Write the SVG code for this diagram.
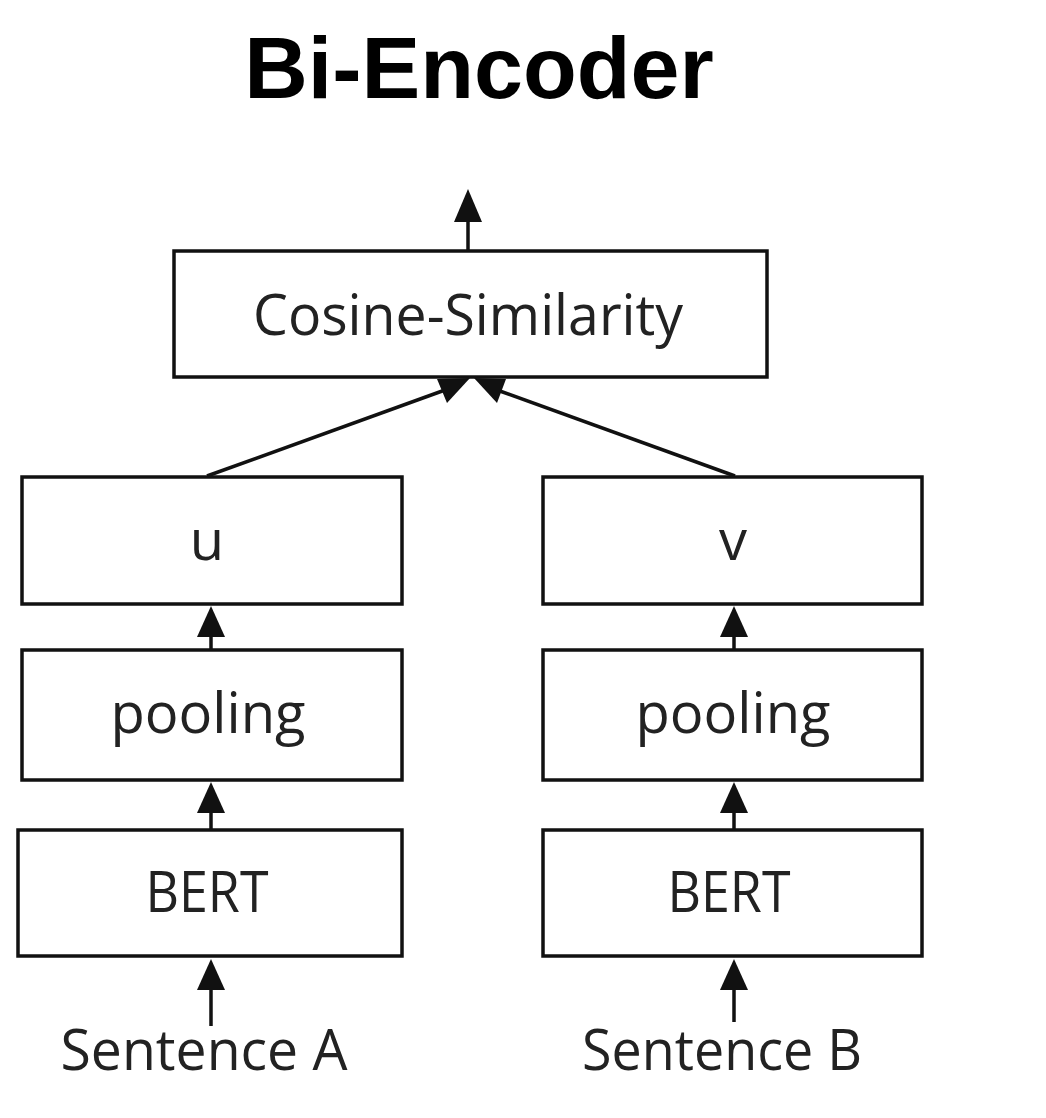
<svg xmlns="http://www.w3.org/2000/svg" width="1046" height="1118" viewBox="0 0 1046 1118">
<style>
.box{fill:#fff;stroke:#111;stroke-width:3.5}
.lbl{font-family:"Open Sans","Noto Sans",sans-serif;font-size:56px;fill:#222;text-anchor:middle}
.title{font-family:"Liberation Sans",Arial,sans-serif;font-weight:bold;font-size:88px;fill:#000;text-anchor:middle}
.edge{stroke:#111;stroke-width:3.5;fill:none}
.head{fill:#111}
</style>
<rect width="1046" height="1118" fill="#fff"/>
<text class="title" x="479" y="98">Bi-Encoder</text>
<g id="connectors">
<line class="edge" x1="468" y1="251" x2="468" y2="220"/>
<path class="head" d="M454,222 L468,189 L482,222 z"/>
<line class="edge" x1="207" y1="476" x2="445" y2="390"/>
<path class="head" d="M437,379 L470,378 L447,403 z"/>
<line class="edge" x1="735" y1="476" x2="497" y2="390"/>
<path class="head" d="M474,378 L506,379 L497,403 z"/>
<line class="edge" x1="211" y1="650" x2="211" y2="632"/>
<path class="head" d="M197,637 L211,606 L225,637 z"/>
<line class="edge" x1="211" y1="830" x2="211" y2="808"/>
<path class="head" d="M197,813 L211,782 L225,813 z"/>
<line class="edge" x1="211" y1="1026" x2="211" y2="985"/>
<path class="head" d="M197,990 L211,959 L225,990 z"/>
<line class="edge" x1="734" y1="650" x2="734" y2="632"/>
<path class="head" d="M720,637 L734,606 L748,637 z"/>
<line class="edge" x1="734" y1="830" x2="734" y2="808"/>
<path class="head" d="M720,813 L734,782 L748,813 z"/>
<line class="edge" x1="734" y1="1022" x2="734" y2="985"/>
<path class="head" d="M720,990 L734,959 L748,990 z"/>
</g>
<g id="cosine"><rect class="box" x="174" y="251" width="593" height="126"/><text class="lbl" x="468" y="335" textLength="430" lengthAdjust="spacingAndGlyphs">Cosine-Similarity</text></g>
<g id="u"><rect class="box" x="22" y="477" width="380" height="127"/><text class="lbl" x="207" y="560">u</text></g>
<g id="v"><rect class="box" x="543" y="477" width="379" height="127"/><text class="lbl" x="733" y="560">v</text></g>
<g id="poolingA"><rect class="box" x="22" y="650" width="380" height="130"/><text class="lbl" x="208" y="733" textLength="195" lengthAdjust="spacingAndGlyphs">pooling</text></g>
<g id="poolingB"><rect class="box" x="543" y="650" width="379" height="130"/><text class="lbl" x="733" y="733" textLength="195" lengthAdjust="spacingAndGlyphs">pooling</text></g>
<g id="bertA"><rect class="box" x="18" y="830" width="384" height="126"/><text class="lbl" x="207" y="912" textLength="123" lengthAdjust="spacingAndGlyphs">BERT</text></g>
<g id="bertB"><rect class="box" x="543" y="830" width="379" height="126"/><text class="lbl" x="729" y="912" textLength="123" lengthAdjust="spacingAndGlyphs">BERT</text></g>
<g id="sentA"><text class="lbl" x="204" y="1070" textLength="287" lengthAdjust="spacingAndGlyphs">Sentence A</text></g>
<g id="sentB"><text class="lbl" x="722" y="1070" textLength="280" lengthAdjust="spacingAndGlyphs">Sentence B</text></g>
</svg>
